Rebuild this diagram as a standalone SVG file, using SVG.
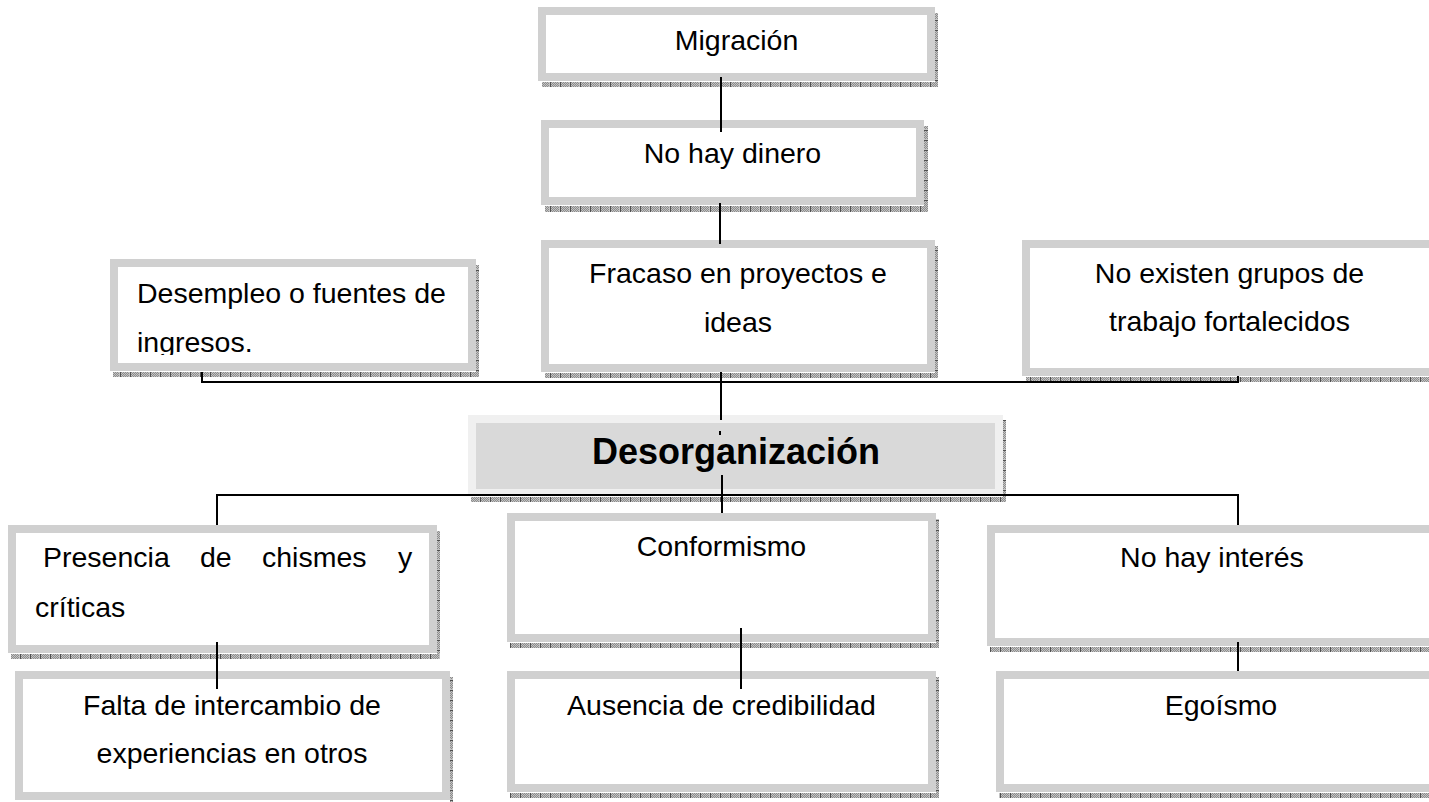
<svg xmlns="http://www.w3.org/2000/svg" width="1429" height="802" viewBox="0 0 1429 802">
<style>
  .box { fill: #ffffff; stroke: #d0d0d0; stroke-width: 8; }
  .t { font-family: "Liberation Sans", Arial, sans-serif; font-size: 28.5px; fill: #000000; }
  .c { text-anchor: middle; }
  .b { font-weight: bold; font-size: 36px; }
  .sh { fill: url(#shH); }
  .sv { fill: url(#shV); }
  .con { fill: none; stroke: #000000; stroke-width: 2; }
</style>
<defs>
  <pattern id="shH" patternUnits="userSpaceOnUse" width="10" height="2">
    <rect width="10" height="2" fill="#c4c4c4"/>
    <rect x="1" y="0" width="1" height="1" fill="#8c8c8c"/>
    <rect x="3" y="0" width="1" height="1" fill="#8c8c8c"/>
    <rect x="5" y="0" width="1" height="1" fill="#8c8c8c"/>
    <rect x="7" y="0" width="1" height="1" fill="#8c8c8c"/>
    <rect x="2" y="1" width="1" height="1" fill="#8c8c8c"/>
    <rect x="4" y="1" width="1" height="1" fill="#8c8c8c"/>
    <rect x="6" y="1" width="1" height="1" fill="#8c8c8c"/>
    <rect x="8" y="1" width="1" height="1" fill="#8c8c8c"/>
    <rect x="0" y="0" width="1" height="2" fill="#505050"/>
  </pattern>
  <pattern id="shV" patternUnits="userSpaceOnUse" width="2" height="10">
    <rect width="2" height="10" fill="#c4c4c4"/>
    <rect x="0" y="1" width="1" height="1" fill="#8c8c8c"/>
    <rect x="0" y="3" width="1" height="1" fill="#8c8c8c"/>
    <rect x="0" y="5" width="1" height="1" fill="#8c8c8c"/>
    <rect x="0" y="7" width="1" height="1" fill="#8c8c8c"/>
    <rect x="1" y="2" width="1" height="1" fill="#8c8c8c"/>
    <rect x="1" y="4" width="1" height="1" fill="#8c8c8c"/>
    <rect x="1" y="6" width="1" height="1" fill="#8c8c8c"/>
    <rect x="1" y="8" width="1" height="1" fill="#8c8c8c"/>
    <rect x="0" y="0" width="2" height="1" fill="#505050"/>
  </pattern>
  <clipPath id="clipDes">
    <rect x="110" y="259" width="366" height="96"/>
  </clipPath>
</defs>

<g id="node-migracion">
  <rect class="sv" x="935" y="13" width="3" height="74"/>
  <rect class="sh" x="542" y="82" width="396" height="5"/>
  <rect class="box" x="542" y="11" width="389" height="66"/>
  <text class="t c" x="736.5" y="50">Migración</text>
</g>

<g id="node-no-hay-dinero">
  <rect class="sv" x="924" y="126" width="4" height="86"/>
  <rect class="sh" x="545" y="206" width="383" height="6"/>
  <rect class="box" x="545" y="124" width="375" height="77"/>
  <text class="t c" x="732.5" y="163">No hay dinero</text>
</g>

<g id="node-fracaso">
  <rect class="sv" x="935" y="246" width="3" height="132"/>
  <rect class="sh" x="545" y="373" width="393" height="5"/>
  <rect class="box" x="545" y="244" width="386" height="124"/>
  <text class="t c" x="738" y="283">Fracaso en proyectos e</text>
  <text class="t c" x="738" y="332">ideas</text>
</g>

<g id="node-desempleo">
  <rect class="sv" x="476" y="265" width="3" height="112"/>
  <rect class="sh" x="113" y="372" width="366" height="5"/>
  <rect class="box" x="114" y="263" width="358" height="104"/>
  <g clip-path="url(#clipDes)">
    <text class="t" x="137" y="303">Desempleo o fuentes de</text>
    <text class="t" x="137" y="352">ingresos.</text>
  </g>
</g>

<g id="node-no-existen">
  <rect class="sh" x="1026" y="377" width="410" height="5"/>
  <rect class="box" x="1026" y="244" width="407" height="128"/>
  <text class="t c" x="1229.5" y="283">No existen grupos de</text>
  <text class="t c" x="1229.5" y="331">trabajo fortalecidos</text>
</g>

<g id="node-desorganizacion">
  <rect class="sv" x="1003" y="420" width="3" height="82"/>
  <rect class="sh" x="471" y="497" width="535" height="5"/>
  <rect x="468" y="415" width="535" height="79" fill="#f0f0f0"/>
  <rect x="476" y="423" width="519" height="66" fill="#d9d9d9"/>
  <text class="t c b" x="736" y="464">Desorganización</text>
</g>

<g id="node-presencia">
  <rect class="sv" x="437" y="531" width="3" height="127"/>
  <rect class="sh" x="11" y="654" width="429" height="5"/>
  <rect class="box" x="12" y="529" width="421" height="120"/>
  <text class="t" y="567"><tspan x="43">Presencia</tspan><tspan x="200">de</tspan><tspan x="262">chismes</tspan><tspan x="398">y</tspan></text>
  <text class="t" x="35" y="617">críticas</text>
</g>

<g id="node-conformismo">
  <rect class="sv" x="936" y="519" width="3" height="128"/>
  <rect class="sh" x="510" y="643" width="429" height="5"/>
  <rect class="box" x="511" y="517" width="421" height="121"/>
  <text class="t c" x="721.5" y="556">Conformismo</text>
</g>

<g id="node-no-hay-interes">
  <rect class="sh" x="990" y="647" width="445" height="5"/>
  <rect class="box" x="991" y="529" width="442" height="113"/>
  <text class="t c" x="1212" y="567">No hay interés</text>
</g>

<g id="node-falta">
  <rect class="sv" x="450" y="677" width="3" height="125"/>
  <rect class="box" x="19" y="675" width="427" height="121"/>
  <text class="t c" x="232" y="715">Falta de intercambio de</text>
  <text class="t c" x="232" y="763">experiencias en otros</text>
</g>

<g id="node-ausencia">
  <rect class="sv" x="936" y="677" width="3" height="120"/>
  <rect class="sh" x="510" y="793" width="429" height="5"/>
  <rect class="box" x="511" y="675" width="421" height="113"/>
  <text class="t c" x="721.5" y="715">Ausencia de credibilidad</text>
</g>

<g id="node-egoismo">
  <rect class="sh" x="999" y="793" width="440" height="5"/>
  <rect class="box" x="1000" y="675" width="442" height="113"/>
  <text class="t c" x="1221" y="715">Egoísmo</text>
</g>

<g id="connectors">
  <path class="con" d="M721 77 V132"/>
  <path class="con" d="M720 203 V244"/>
  <path class="con" d="M721 372 V420"/>
  <path class="con" d="M202 372 V382 H1238 V376"/>
  <path class="con" d="M720 431 V435"/>
  <path class="con" d="M722 475 V513"/>
  <path class="con" d="M217 525 V495 H1238 V525"/>
  <path class="con" d="M217 642 V689"/>
  <path class="con" d="M741 628 V689"/>
  <path class="con" d="M1238 642 V671"/>
</g>
</svg>
